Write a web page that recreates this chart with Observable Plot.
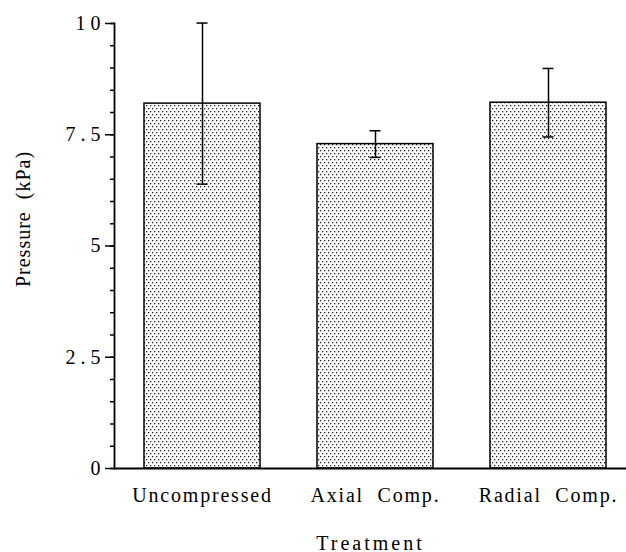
<!DOCTYPE html>
<html><head><meta charset="utf-8">
<script src="https://cdn.jsdelivr.net/npm/d3@7"></script>
<script src="https://cdn.jsdelivr.net/npm/@observablehq/plot@0.6"></script>
<style>
body{margin:0;background:#fff;}
svg text{white-space:pre;}
</style></head>
<body><div id="chart"></div>
<script>
const treatments = ["Uncompressed", "Axial  Comp.", "Radial  Comp."];
const means = [8.2, 7.29, 8.22];
const sds = [1.81, 0.3, 0.77];
const yTicks = [0, 2.5, 5, 7.5, 10];
const yMinorTicks = d3.range(0, 10.01, 0.5);
const yTickLabels = ["0", "2.5", "5", "7.5", "10"];
const xTitle = "Treatment";
const yTitle = "Pressure  (kPa)";

const data = treatments.map((t, i) => ({t, m: means[i], lo: means[i] - sds[i], hi: means[i] + sds[i]}));
const font = "'Liberation Serif', 'Times New Roman', serif";

const chart = Plot.plot({
  width: 626, height: 552,
  marginLeft: 114, marginRight: 0, marginTop: 23, marginBottom: 84,
  style: {fontFamily: font, fontSize: "20px", color: "#000", background: "#fff"},
  x: {domain: treatments, range: [114.25, 634.75], paddingInner: 0.3314, paddingOuter: 0.1657, align: 0.5},
  y: {domain: [0, 10]},
  marks: [
    Plot.barY(data, {x: "t", y: "m", fill: "url(#dots)", stroke: "#000", strokeWidth: 1.5}),
    Plot.ruleX(data, {x: "t", y1: "lo", y2: "hi", stroke: "#000", strokeWidth: 1.5}),
    Plot.tickY(data, {x: "t", y: "hi", stroke: "#000", strokeWidth: 1.5, insetLeft: 52.5, insetRight: 52.5}),
    Plot.tickY(data, {x: "t", y: "lo", stroke: "#000", strokeWidth: 1.5, insetLeft: 52.5, insetRight: 52.5}),
    Plot.axisY({ticks: yMinorTicks, tickSize: 4, tickFormat: () => "", strokeWidth: 1.5, label: null}),
    Plot.axisY({ticks: yTicks, tickSize: 9, tickPadding: 0, strokeWidth: 1.5, fontSize: 20,
      tickFormat: d => yTickLabels[yTicks.indexOf(d)], label: null, className: "ytk"}),
    Plot.axisX({tickSize: 0, tickPadding: 19, fontSize: 20, label: null, className: "xtk"}),
    Plot.frame({anchor: "left", stroke: "#000", strokeWidth: 1.8}),
    Plot.ruleY([0], {stroke: "#000", strokeWidth: 2}),
    Plot.text([xTitle], {frameAnchor: "bottom", textAnchor: "middle", lineAnchor: "bottom", dy: 81, fontSize: 20, className: "xttl"}),
    Plot.text([yTitle], {frameAnchor: "left", textAnchor: "middle", lineAnchor: "middle", rotate: -90, dx: -91, dy: -27, fontSize: 20, className: "yttl"})
  ]
});

const ns = "http://www.w3.org/2000/svg";
const defs = document.createElementNS(ns, "defs");
defs.innerHTML = `<pattern id="dots" patternUnits="userSpaceOnUse" width="4" height="6">
  <rect width="4" height="6" fill="#fff"/>
  <rect x="0" y="0" width="1.3" height="1.3" fill="#222"/>
  <rect x="2" y="3" width="1.3" height="1.3" fill="#222"/>
</pattern>`;
chart.insertBefore(defs, chart.firstChild);
const sel = d3.select(chart);
sel.selectAll(".ytk text").style("letter-spacing", "5px");
sel.selectAll(".xtk text").style("letter-spacing", "1.8px");
sel.selectAll(".xttl text").style("letter-spacing", "3px");
sel.selectAll(".yttl text").style("letter-spacing", "1px");
document.getElementById("chart").appendChild(chart);
</script>
</body></html>
